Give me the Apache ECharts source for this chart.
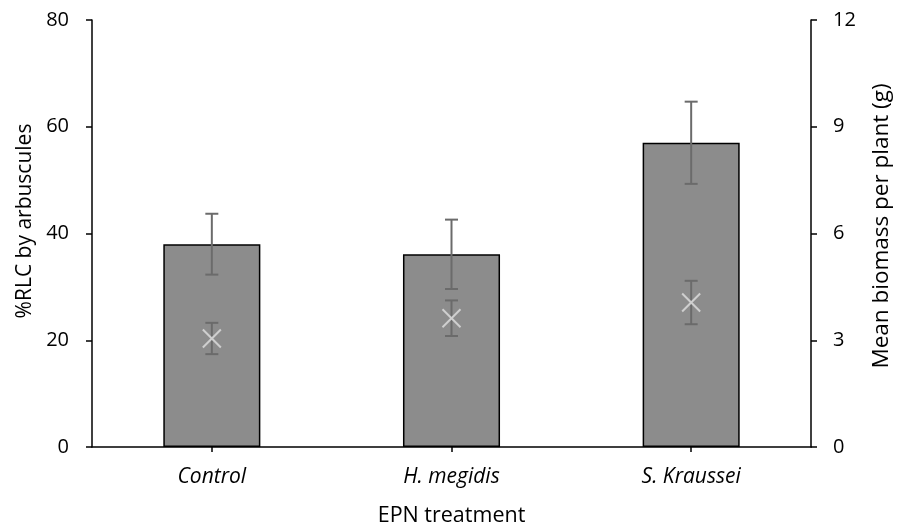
<!DOCTYPE html>
<html>
<head>
<meta charset="utf-8">
<script src="https://cdn.jsdelivr.net/npm/echarts@6/dist/echarts.min.js"></script>
<style>html,body{margin:0;padding:0;background:#fff}#c{width:898px;height:530px}</style>
</head>
<body>
<div id="c"></div>
<script>
var categories = ['Control', 'H. megidis', 'S. Kraussei'];
var rlcMean = [38.0, 36.1, 57.0];
var rlcErr = [5.7, 6.5, 7.7];
var biomassMean = [3.05, 3.62, 4.06];
var biomassErr = [0.44, 0.5, 0.61];
var leftTicks = [0, 20, 40, 60, 80];
var rightTicks = [0, 3, 6, 9, 12];

var FONT = '"Open Sans"';
var chart = echarts.init(document.getElementById('c'), null, {renderer: 'canvas'});

function errData(mean, err) {
  return mean.map(function (m, i) { return [i, m - err[i], m + err[i]]; });
}
function errRender(params, api) {
  var x = api.value(0);
  var lo = api.coord([x, api.value(1)]);
  var hi = api.coord([x, api.value(2)]);
  var hw = 6.5;
  var st = {stroke: '#6b6b6b', lineWidth: 2};
  return {
    type: 'group',
    children: [
      {type: 'line', shape: {x1: lo[0], y1: lo[1], x2: hi[0], y2: hi[1]}, style: st},
      {type: 'line', shape: {x1: lo[0] - hw, y1: lo[1], x2: lo[0] + hw, y2: lo[1]}, style: st},
      {type: 'line', shape: {x1: hi[0] - hw, y1: hi[1], x2: hi[0] + hw, y2: hi[1]}, style: st}
    ]
  };
}
function crossRender(params, api) {
  var p = api.coord([api.value(0), api.value(1)]);
  var s = 9;
  var st = {stroke: '#cfcfcf', lineWidth: 2};
  return {
    type: 'group',
    children: [
      {type: 'line', shape: {x1: p[0] - s, y1: p[1] - s, x2: p[0] + s, y2: p[1] + s}, style: st},
      {type: 'line', shape: {x1: p[0] - s, y1: p[1] + s, x2: p[0] + s, y2: p[1] - s}, style: st}
    ]
  };
}

var option = {
  animation: false,
  grid: {left: 92, right: 87, top: 20, bottom: 83, containLabel: false, outerBoundsMode: 'none'},
  xAxis: {
    type: 'category',
    data: categories,
    name: 'EPN treatment',
    nameLocation: 'middle',
    nameGap: 58,
    nameTextStyle: {fontFamily: FONT, fontSize: 21.5, color: '#000'},
    axisLine: {lineStyle: {color: '#000', width: 1.5}},
    axisTick: {show: true, alignWithLabel: true, length: 5, lineStyle: {color: '#000', width: 1.5}},
    axisLabel: {fontFamily: FONT, fontSize: 21, color: '#000', fontStyle: 'italic', margin: 20}
  },
  yAxis: [
    {
      type: 'value', min: 0, max: 80, interval: 20,
      name: '%RLC by arbuscules',
      nameLocation: 'middle', nameGap: 56, nameRotate: 90,
      nameTextStyle: {fontFamily: FONT, fontSize: 21, color: '#000', padding: [0, 0, 0, 25]},
      axisLine: {show: true, lineStyle: {color: '#000', width: 1.5}},
      axisTick: {show: true, length: 6, lineStyle: {color: '#000', width: 1.5}},
      axisLabel: {fontFamily: FONT, fontSize: 20, color: '#000', margin: 23,
        formatter: function (v) { return leftTicks.indexOf(v) >= 0 ? String(v) : ''; }},
      splitLine: {show: false}
    },
    {
      type: 'value', min: 0, max: 12, interval: 3,
      name: 'Mean biomass per plant (g)',
      nameLocation: 'middle', nameGap: 59, nameRotate: 90,
      nameTextStyle: {fontFamily: FONT, fontSize: 22.5, color: '#000', padding: [0, 0, 0, 15]},
      position: 'right',
      axisLine: {show: true, lineStyle: {color: '#000', width: 1.5}},
      axisTick: {show: true, length: 6, lineStyle: {color: '#000', width: 1.5}},
      axisLabel: {fontFamily: FONT, fontSize: 20, color: '#000', margin: 22,
        formatter: function (v) { return rightTicks.indexOf(v) >= 0 ? String(v) : ''; }},
      splitLine: {show: false}
    }
  ],
  series: [
    {
      type: 'bar',
      data: rlcMean,
      barWidth: '40.5%',
      itemStyle: {color: '#8c8c8c', borderColor: '#000', borderWidth: 1.5},
      z: 2
    },
    {
      type: 'custom',
      yAxisIndex: 0,
      renderItem: errRender,
      data: errData(rlcMean, rlcErr),
      encode: {x: 0, y: [1, 2]},
      z: 3
    },
    {
      type: 'custom',
      yAxisIndex: 1,
      renderItem: errRender,
      data: errData(biomassMean, biomassErr),
      encode: {x: 0, y: [1, 2]},
      z: 3
    },
    {
      type: 'custom',
      yAxisIndex: 1,
      renderItem: crossRender,
      data: biomassMean.map(function (m, i) { return [i, m]; }),
      encode: {x: 0, y: 1},
      z: 4
    }
  ]
};
chart.setOption(option);
</script>
</body>
</html>
